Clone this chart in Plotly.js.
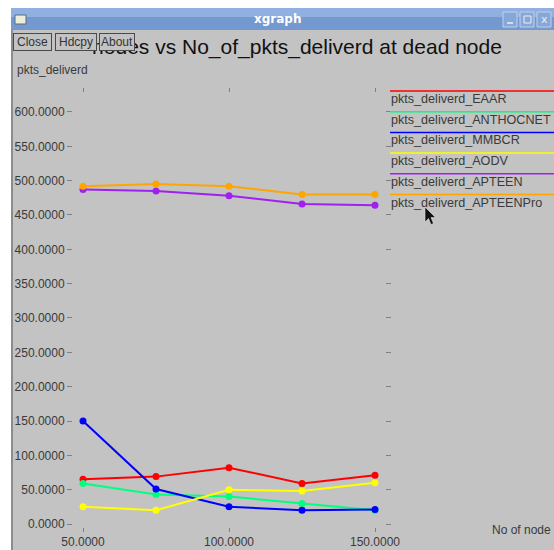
<!DOCTYPE html>
<html>
<head>
<meta charset="utf-8">
<script src="https://cdn.plot.ly/plotly-3.0.1.min.js"></script>
<style>
  html, body { margin: 0; padding: 0; background: #ffffff; }
  #chart { width: 554px; height: 550px; }
</style>
</head>
<body>
<div id="chart"></div>
<script>
// ---- data ----
const nodes = [50, 75, 100, 125, 150];
const seriesNames = ["pkts_deliverd_EAAR", "pkts_deliverd_ANTHOCNET", "pkts_deliverd_MMBCR",
                     "pkts_deliverd_AODV", "pkts_deliverd_APTEEN", "pkts_deliverd_APTEENPro"];
const EAAR      = [65, 69, 82, 59, 71];
const ANTHOCNET = [59, 43, 40, 30, 20];
const MMBCR     = [150, 51, 25, 20, 21];
const AODV      = [25, 20, 50, 48, 60];
const APTEEN    = [487, 485, 478, 466, 464];
const APTEENPro = [492, 495, 492, 480, 480];
const seriesColors = ["#ff0000", "#00ff7f", "#0000ff", "#ffff00", "#a020f0", "#ffa500"];
const chartTitle = "nodes vs No_of_pkts_deliverd at dead node";
const yLabel = "pkts_deliverd";
const xLabel = "No of node";
const buttons = ["Close", "Hdcpy", "About"];

const allSeries = [EAAR, ANTHOCNET, MMBCR, AODV, APTEEN, APTEENPro];

// ---- geometry helpers (pixel -> paper) ----
const W = 554, H = 550;
const L = 73, R = 385, T = 93, B = 527;
const px = x => (x - L) / (R - L);
const py = y => (B - y) / (B - T);

const traces = allSeries.map((vals, i) => ({
  x: nodes, y: vals, type: 'scatter', mode: 'lines+markers',
  name: seriesNames[i],
  line: {color: seriesColors[i], width: 2},
  marker: {color: seriesColors[i], size: 7},
  showlegend: false, hoverinfo: 'none'
}));

const grayBg = '#c3c3c3';
const textCol = '#3a3a3a';
const shapes = [];
const annotations = [];

// window frame
shapes.push({type: 'rect', xref: 'paper', yref: 'paper', x0: px(-5), x1: px(11), y0: py(560), y1: py(-5), fillcolor: '#ffffff', line: {width: 0}, layer: 'below'});
shapes.push({type: 'rect', xref: 'paper', yref: 'paper', x0: px(-5), x1: px(560), y0: py(8), y1: py(-5), fillcolor: '#ffffff', line: {width: 0}, layer: 'below'});
shapes.push({type: 'line', xref: 'paper', yref: 'paper', x0: px(12), x1: px(12), y0: py(30), y1: py(560), line: {color: '#8c8c8c', width: 2}, layer: 'below'});
// title bar
shapes.push({type: 'rect', xref: 'paper', yref: 'paper', x0: px(11), x1: px(560), y0: py(30), y1: py(8), fillcolor: '#7498d0', line: {width: 0}, layer: 'below'});
shapes.push({type: 'rect', xref: 'paper', yref: 'paper', x0: px(11), x1: px(560), y0: py(17), y1: py(8), fillcolor: '#8fb0e0', line: {width: 0}, layer: 'below'});
// icon
shapes.push({type: 'rect', xref: 'paper', yref: 'paper', x0: px(15), x1: px(26), y0: py(24), y1: py(15), fillcolor: '#eeeed8', line: {color: '#5a6a80', width: 1}, layer: 'below'});
// window buttons
[503, 520, 537].forEach(x => {
  shapes.push({type: 'rect', xref: 'paper', yref: 'paper', x0: px(x), x1: px(x + 14), y0: py(27), y1: py(12), fillcolor: '#86a7d8', line: {color: '#c0d2ec', width: 1}, layer: 'below'});
});
shapes.push({type: 'line', xref: 'paper', yref: 'paper', x0: px(507), x1: px(513), y0: py(23), y1: py(23), line: {color: '#e8f0fa', width: 1.5}, layer: 'below'});
shapes.push({type: 'rect', xref: 'paper', yref: 'paper', x0: px(524), x1: px(531), y0: py(23), y1: py(16), line: {color: '#e8f0fa', width: 1}, layer: 'below'});
annotations.push({xref: 'paper', yref: 'paper', x: px(544), y: py(19.5), text: 'x', showarrow: false, font: {family: 'DejaVu Sans', size: 11, color: '#e8f0fa'}, xanchor: 'center', yanchor: 'middle'});
annotations.push({xref: 'paper', yref: 'paper', x: px(277), y: py(19), text: '<b>xgraph</b>', showarrow: false, font: {family: 'DejaVu Sans', size: 12, color: '#ffffff'}, xanchor: 'center', yanchor: 'middle'});

// buttons (opaque boxes drawn over the title, as in xgraph)
const btnX = [[13, 52], [55, 97], [99, 135]];
buttons.forEach((b, i) => {
  const [a, c] = btnX[i];
  annotations.push({xref: 'paper', yref: 'paper', x: px((a + c) / 2), y: py(41.5), text: b, showarrow: false,
    font: {family: 'Liberation Sans', size: 12, color: '#333333'}, xanchor: 'center', yanchor: 'middle',
    width: c - a - 2, height: 16, align: 'center', valign: 'middle',
    bgcolor: grayBg, bordercolor: '#4a4a4a', borderwidth: 1, borderpad: 0});
});

// axis labels
annotations.push({xref: 'paper', yref: 'paper', x: px(15), y: py(70), text: yLabel, showarrow: false, font: {family: 'Liberation Sans', size: 12, color: textCol}, xanchor: 'left', yanchor: 'middle'});
annotations.push({xref: 'paper', yref: 'paper', x: px(553), y: py(530), text: xLabel, showarrow: false, font: {family: 'Liberation Sans', size: 12, color: textCol}, xanchor: 'right', yanchor: 'middle'});

// legend (xgraph style: coloured line above each name)
seriesNames.forEach((n, i) => {
  const ly = 91 + 20.7 * i;
  shapes.push({type: 'line', xref: 'paper', yref: 'paper', x0: px(390), x1: px(560), y0: py(ly), y1: py(ly), line: {color: seriesColors[i], width: 1.5}, layer: 'above'});
  annotations.push({xref: 'paper', yref: 'paper', x: px(389), y: py(ly + 8), text: n, showarrow: false, font: {family: 'Liberation Sans', size: 12.6, color: textCol}, xanchor: 'left', yanchor: 'middle'});
});

// mouse cursor
const cur = [[425, 207], [425, 222], [428.5, 218.5], [431, 224.5], [433.5, 223.5], [431, 217.5], [435.5, 217.5]];
shapes.push({type: 'path', xref: 'paper', yref: 'paper',
  path: 'M' + cur.map(p => px(p[0]) + ',' + py(p[1])).join(' L') + ' Z',
  fillcolor: '#111111', line: {color: '#dddddd', width: 0.6}, layer: 'above'});

// axis ranges from pixel frame
const xr = [50 + (L - 83) / 2.92, 50 + (R - 83) / 2.92];
const yr = [(524 - B) / 0.6867, (524 - T) / 0.6867];

const layout = {
  width: W, height: H,
  margin: {l: L, r: W - R, t: T, b: H - B, pad: 0},
  paper_bgcolor: grayBg, plot_bgcolor: grayBg,
  font: {family: 'Liberation Sans', size: 12, color: textCol},
  title: {text: chartTitle, xref: 'container', yref: 'container', x: 297 / W, y: 1 - 47 / H, xanchor: 'center', yanchor: 'middle',
          font: {family: 'Liberation Sans', size: 21, color: '#111111'}},
  xaxis: {range: xr, tickvals: [50, 100, 150], tickformat: '.4f', showgrid: false, zeroline: false, showline: false,
          ticks: 'outside', ticklen: 4, tickwidth: 1, tickcolor: '#808080', mirror: 'ticks',
          tickfont: {family: 'Liberation Sans', size: 12, color: textCol}, fixedrange: true},
  yaxis: {range: yr, dtick: 50, tick0: 0, tickformat: '.4f', showgrid: false, zeroline: false, showline: false,
          ticks: 'outside', ticklen: 5, tickwidth: 1, tickcolor: '#808080', mirror: 'ticks',
          tickfont: {family: 'Liberation Sans', size: 12, color: textCol}, fixedrange: true},
  shapes: shapes,
  annotations: annotations,
  showlegend: false
};

Plotly.newPlot('chart', traces, layout, {displayModeBar: false, staticPlot: true});
</script>
</body>
</html>
